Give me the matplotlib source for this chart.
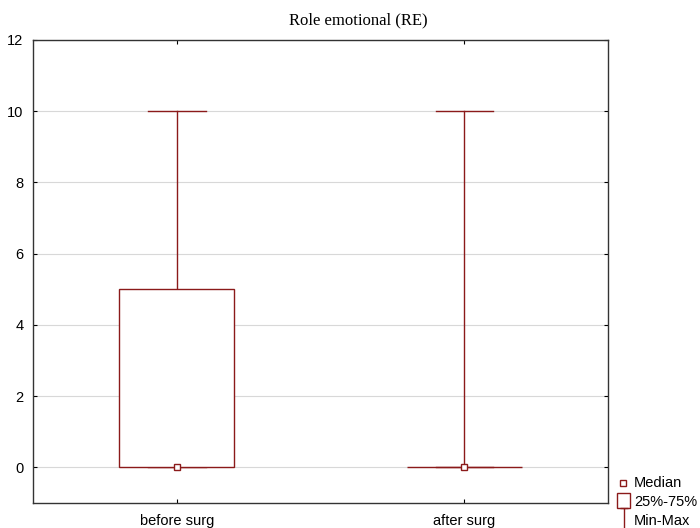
import matplotlib.pyplot as plt
from matplotlib.path import Path

plt.rcParams["font.family"] = ["Liberation Sans", "DejaVu Sans"]

groups = ["before surg", "after surg"]
mins = [0, 0]
q1 = [0, 0]
medians = [0, 0]
q3 = [5, 0]
maxs = [10, 10]
yticks = [0, 2, 4, 6, 8, 10, 12]
legend_labels = ["Median", "25%-75%", "Min-Max"]

red = "#8b1a1a"

fig = plt.figure(figsize=(7.0, 5.28), dpi=100)
ax = fig.add_axes([33 / 700, 25 / 528, 575 / 700, 463 / 528])

box_w = 0.4
cap_w = 0.2
for i, g in enumerate(groups):
    # whisker and caps
    ax.plot([i, i], [q3[i], maxs[i]], color=red, lw=1, zorder=3)
    ax.plot([i, i], [mins[i], q1[i]], color=red, lw=1, zorder=3)
    ax.plot([i - cap_w / 2, i + cap_w / 2], [maxs[i]] * 2, color=red, lw=1, zorder=3)
    ax.plot([i - cap_w / 2, i + cap_w / 2], [mins[i]] * 2, color=red, lw=1, zorder=3)
    # box
    ax.add_patch(plt.Rectangle((i - box_w / 2, q1[i]), box_w, q3[i] - q1[i],
                               facecolor="white", edgecolor=red, lw=1, zorder=3))
    ax.plot(i, medians[i], marker="s", ms=4, mfc="white", mec=red, mew=1, zorder=4)

ax.set_xlim(-0.5, 1.5)
ax.set_ylim(-1, 12)
ax.set_xticks(range(len(groups)))
ax.set_xticklabels(groups, fontsize=10.5)
ax.set_yticks(yticks)
ax.set_yticklabels([str(t) for t in yticks], fontsize=10.5)
ax.grid(axis="y", color="#d8d8d8", lw=0.8, zorder=0)
ax.tick_params(direction="in", length=3, top=True, right=True, width=0.8)
ax.tick_params(axis="x", pad=8)
ax.tick_params(axis="y", pad=7)
for s in ax.spines.values():
    s.set_linewidth(1.0)
    s.set_color("#333333")

fig.text(358 / 700, 1 - 20 / 528, "Role emotional (RE)", fontsize=12,
         family=["Liberation Serif"], ha="center", va="center")

# legend drawn in pixel space, lower right outside the plot
lax = fig.add_axes([0, 0, 1, 1], zorder=5)
lax.set_xlim(0, 700)
lax.set_ylim(528, 0)
lax.axis("off")
ibeam = Path([(-0.38, 1), (0.38, 1), (0, 1), (0, -1), (-0.38, -1), (0.38, -1)],
             [Path.MOVETO, Path.LINETO, Path.MOVETO, Path.LINETO, Path.MOVETO, Path.LINETO])
rows = [483, 502, 521]
lax.plot(623, rows[0], marker="s", ms=4, mfc="white", mec=red, mew=1, ls="none")
lax.add_patch(plt.Rectangle((617, 493), 13, 15, facecolor="white", edgecolor=red, lw=1))
lax.plot(623.5, 519.5, marker=ibeam, ms=17, mfc="none", mec=red, mew=1, ls="none")
for y, lab in zip(rows, legend_labels):
    lax.text(634, y, lab, fontsize=10.5, va="center", ha="left")

fig.savefig("out.png", dpi=100)
